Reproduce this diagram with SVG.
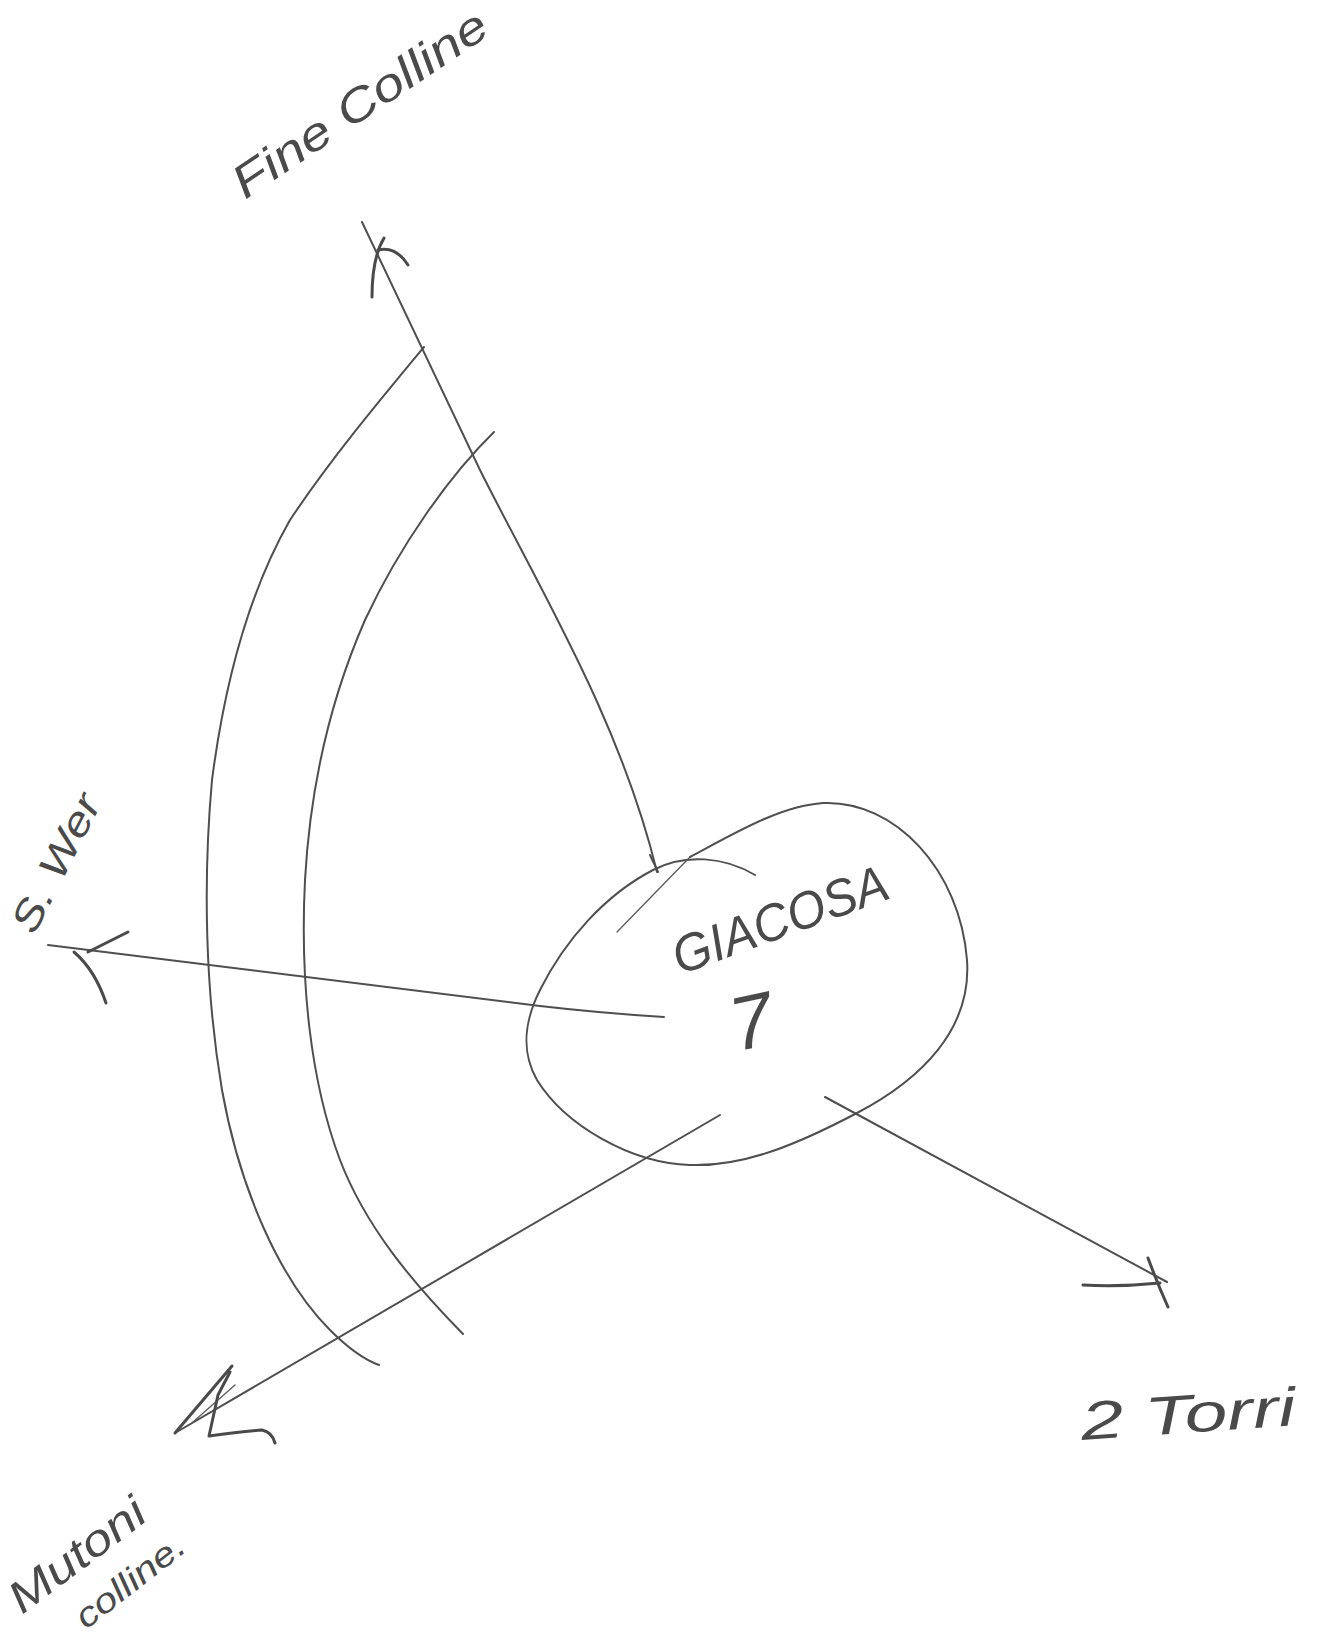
<svg xmlns="http://www.w3.org/2000/svg" width="1320" height="1640" viewBox="0 0 1320 1640">
<style>
.ln{fill:none;stroke:#4f4f4f;stroke-width:2;stroke-linecap:round;stroke-linejoin:round}
.hd{fill:none;stroke:#4a4a4a;stroke-width:3;stroke-linecap:round;stroke-linejoin:round}
.thin{fill:none;stroke:#5a5a5a;stroke-width:1.3;stroke-linecap:round}
.tx{font-family:"Liberation Sans","DejaVu Sans",sans-serif;font-style:italic;fill:#4a4a4a}
</style>
<rect width="1320" height="1640" fill="#ffffff"/>
<g id="hills">
<path class="ln" d="M424,347 C380,400 330,460 290,520 C250,590 225,680 212,780 C203,880 205,990 222,1090 C240,1190 280,1280 330,1330 C350,1350 365,1360 379,1365"/>
<path class="ln" d="M494,432 C450,475 400,545 365,620 C330,700 310,790 305,880 C300,980 310,1080 340,1160 C365,1225 410,1280 463,1334"/>
</g>
<g id="giacosa">
<path class="ln" d="M690,857 C735,833 780,806 823,803 C895,800 960,870 967,960 C972,1030 920,1080 857,1113 C800,1143 745,1167 690,1165 C630,1163 565,1125 537,1080 C520,1050 525,1020 540,990 C565,940 605,895 653,870 C685,853 725,857 755,875"/>
<path class="thin" d="M617,932 L690,857"/>
<text class="tx" x="680" y="975" font-size="52" textLength="226" lengthAdjust="spacingAndGlyphs" transform="rotate(-20 680 975)">GIACOSA</text>
<text class="tx" x="757" y="1047" font-size="76" text-anchor="middle" transform="rotate(-12 757 1047)">7</text>
</g>
<g id="label-fine-colline">
<text class="tx" x="245" y="200" font-size="46" textLength="298" lengthAdjust="spacingAndGlyphs" transform="rotate(-34 245 200)">Fine Colline</text>
</g>
<g id="label-s-wer">
<text class="tx" x="34" y="936" font-size="40" textLength="150" lengthAdjust="spacingAndGlyphs" transform="rotate(-63 34 936)">S. Wer</text>
</g>
<g id="label-2-torri">
<text class="tx" x="1082" y="1440" font-size="54" textLength="215" lengthAdjust="spacingAndGlyphs" transform="rotate(-4 1082 1440)">2 Torri</text>
</g>
<g id="label-mutoni">
<text class="tx" x="22" y="1615" font-size="44" textLength="160" lengthAdjust="spacingAndGlyphs" transform="rotate(-37 22 1615)">Mutoni</text>
<text class="tx" x="86" y="1630" font-size="34" textLength="130" lengthAdjust="spacingAndGlyphs" transform="rotate(-38 86 1630)">colline.</text>
</g>
<g id="connectors">
<path class="ln" d="M657,872 C620,720 540,590 480,470 L362,222"/>
<path class="ln" d="M650,855 L658,872"/>
<path class="hd" d="M384,238 Q372,258 372,297"/>
<path class="hd" d="M378,250 Q396,246 408,265"/>
<path class="ln" d="M664,1017 Q600,1013 540,1006 L48,945"/>
<path class="hd" d="M128,932 L88,952"/>
<path class="hd" d="M74,952 Q95,970 106,1003"/>
<path class="ln" d="M720,1115 L175,1433"/>
<path class="hd" d="M175,1433 L232,1366"/>
<path class="thin" d="M193,1422 L235,1385"/>
<path class="hd" d="M230,1372 L218,1395 L209,1436 Q240,1432 262,1430 Q272,1432 275,1443"/>
<path class="ln" d="M825,1097 L1167,1282"/>
<path class="hd" d="M1148,1258 Q1158,1285 1168,1307"/>
<path class="hd" d="M1083,1285 Q1120,1287 1160,1283"/>
</g>
</svg>
